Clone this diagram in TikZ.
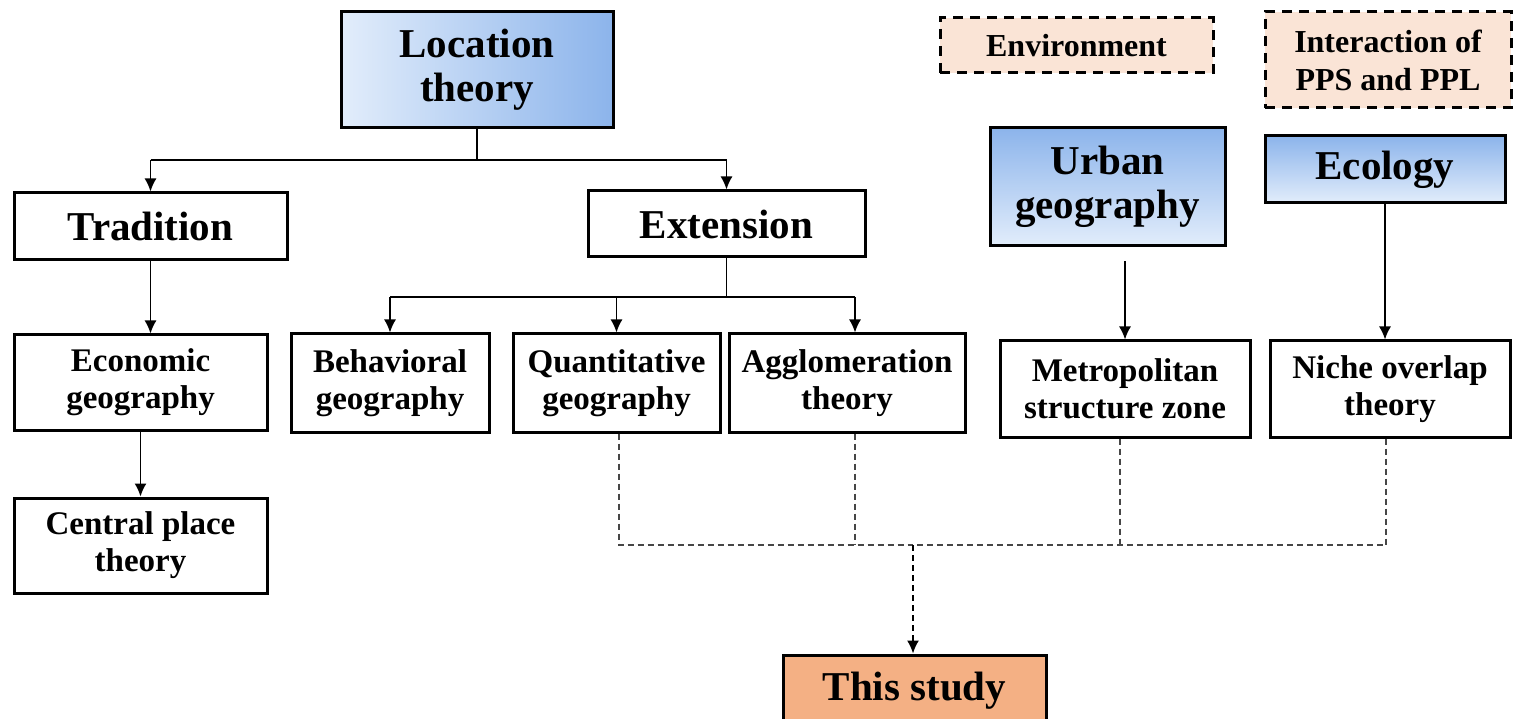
\documentclass[tikz,border=0pt]{standalone}
\usepackage{fontspec}
\setmainfont{Liberation Serif}
\usetikzlibrary{arrows.meta}
\definecolor{peach}{RGB}{250,228,214}
\definecolor{studyc}{RGB}{244,176,132}
\definecolor{bdark}{RGB}{140,180,235}
\definecolor{blight}{RGB}{226,237,251}
\definecolor{dgray}{RGB}{70,70,70}
\tikzset{
  box/.style={draw=black, line width=3pt, inner sep=0pt, align=center, fill=white},
  small/.style={font=\fontsize{33}{37}\selectfont\bfseries},
  big/.style={font=\fontsize{41}{44}\selectfont\bfseries},
  bluebox/.style={box, big, top color=bdark, bottom color=blight},
  dbox/.style={draw=black, line width=3pt, dash pattern=on 10pt off 7pt, fill=peach, inner sep=0pt, align=center, font=\fontsize{32}{38}\selectfont\bfseries},
  conn/.style={line width=1.6pt, black},
  arr/.style={conn, -{Latex[length=13pt,width=12pt]}},
  dsh/.style={line width=1.6pt, dgray, dash pattern=on 6pt off 4pt},
}
\begin{document}
\begin{tikzpicture}[x=1pt, y=-1pt]
\useasboundingbox (0,0) rectangle (1513,719);
% top nodes
\node[box, big, left color=blight, right color=bdark, minimum width=272pt, minimum height=116pt] (loc) at (477,70) {Location\\theory};
\node[box, big, minimum width=273pt, minimum height=67pt] (trad) at (150.5,226.5) {Tradition};
\node[box, big, minimum width=277pt, minimum height=66pt] (ext) at (726.5,224) {Extension};
\node[box, small, minimum width=253pt, minimum height=95pt] (econ) at (140.5,382.5) {Economic\\geography};
\node[box, small, minimum width=253pt, minimum height=95pt] (cpt) at (140.5,545.5) {Central place\\theory};
\node[box, small, minimum width=198pt, minimum height=98pt] (beh) at (390,383) {Behavioral\\geography};
\node[box, small, minimum width=207pt, minimum height=98pt] (quant) at (616.5,383) {Quantitative\\geography};
\node[box, small, minimum width=236pt, minimum height=98pt] (agg) at (847,383) {Agglomeration\\theory};
\node[box, small, minimum width=250pt, minimum height=96pt] (metro) at (1125,389) {Metropolitan\\structure zone};
\node[box, small, minimum width=240pt, minimum height=96pt] (niche) at (1390,389) {Niche overlap\\theory};
\node[bluebox, minimum width=235pt, minimum height=118pt] (urban) at (1107.5,187) {Urban\\geography};
\node[bluebox, minimum width=240pt, minimum height=67pt] (eco) at (1385,169.5) {Ecology};
\node[dbox, minimum width=273pt, minimum height=55pt] (env) at (1076.5,45.5) {Environment};
\node[dbox, minimum width=246pt, minimum height=96pt] (inter) at (1388,60) {Interaction of\\PPS and PPL};
\node[box, big, fill=studyc, minimum width=263pt, minimum height=72pt] (study) at (914.5,691) {This study};
% location theory branches
\draw[conn] (loc.south) -- (loc.south |- 0,160);
\draw[conn] (trad.north |- 0,160) -- (ext.north |- 0,160);
\draw[arr] (trad.north |- 0,160) -- (trad.north);
\draw[arr] (ext.north |- 0,160) -- (ext.north);
% tradition chain
\draw[arr] (trad.south) -- (trad.south |- econ.north);
\draw[arr] (econ.south) -- (cpt.north);
% extension branches
\coordinate (aggtop) at (855,297);
\draw[conn] (ext.south) -- (ext.south |- 0,297);
\draw[conn] (beh.north |- 0,297) -- (aggtop);
\draw[arr] (beh.north |- 0,297) -- (beh.north);
\draw[arr] (quant.north |- 0,297) -- (quant.north);
\draw[arr] (aggtop) -- (aggtop |- agg.north);
% right side
\draw[arr, shorten <=14pt] (urban.south -| metro.north) -- (metro.north);
\draw[arr] (eco.south) -- (eco.south |- niche.north);
% dashed merge
\coordinate (jn) at (913,545);
\draw[dsh] (quant.south -| 619,0) |- (jn);
\draw[dsh] (agg.south -| 855,0) -- (855,545);
\draw[dsh] (metro.south -| 1120,0) -- (1120,545);
\draw[dsh] (niche.south -| 1386,0) |- (jn);
\draw[dsh, -{Latex[length=13pt,width=12pt]}, black] (jn) -- (jn |- study.north);
\end{tikzpicture}
\end{document}
